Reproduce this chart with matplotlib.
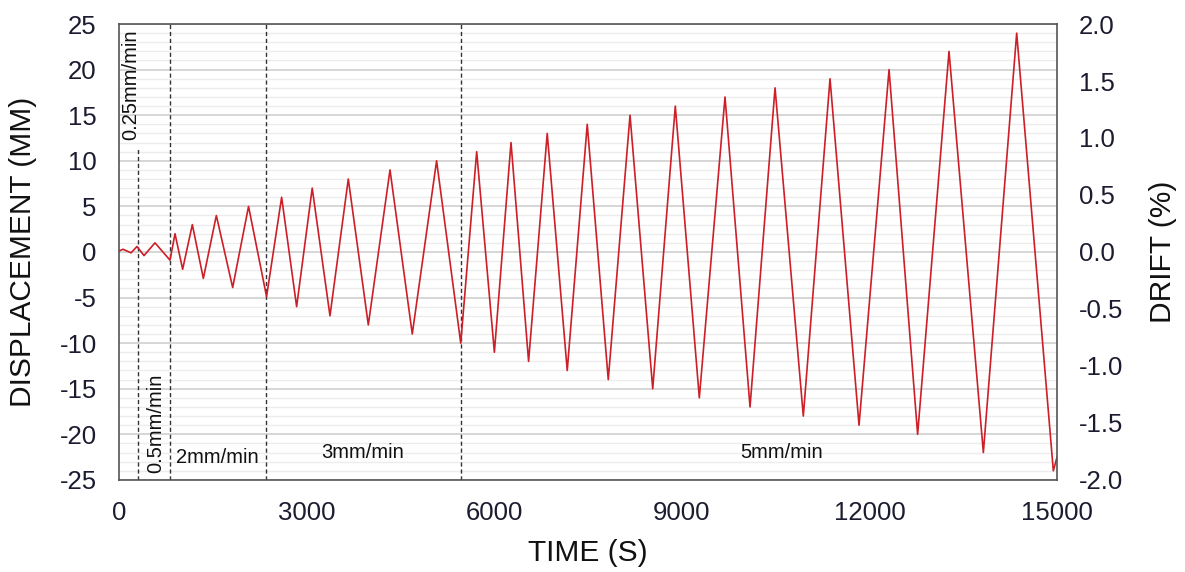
import numpy as np
import matplotlib
matplotlib.use("Agg")
import matplotlib.pyplot as plt
from matplotlib.ticker import MultipleLocator, FormatStrFormatter

plt.rcParams['font.family'] = ['Liberation Sans', 'DejaVu Sans']
plt.rcParams['axes.unicode_minus'] = False

# loading protocol, turning points
time = [0, 64, 192, 288, 400, 576, 816,
        896, 1018, 1173, 1349, 1557, 1818, 2072, 2360,
        2601, 2841, 3090, 3374, 3667, 3987, 4334, 4690, 5079, 5465,
        5720, 6003, 6269, 6550, 6848, 7168, 7488, 7824, 8172, 8535,
        8896, 9280, 9691, 10091, 10491, 10943, 11370, 11834, 12314,
        12771, 13273, 13822, 14355, 14941, 15000]
disp = [0.1, 0.3, -0.1, 0.6, -0.4, 1.0, -0.9,
        2.0, -1.9, 3.0, -2.9, 4.0, -3.9, 5.0, -4.9,
        6.0, -6.0, 7.0, -7.0, 8.0, -8.0, 9.0, -9.0, 10.0, -10.0,
        11.0, -11.0, 12.0, -12.0, 13.0, -13.0, 14.0, -14.0, 15.0, -15.0,
        16.0, -16.0, 17.0, -17.0, 18.0, -18.0, 19.0, -19.0, 20.0,
        -20.0, 22.0, -22.0, 24.0, -24.0, -22.5]

rate_bounds = [304, 816, 2351, 5469]
bound_tops = [11.4, 25, 25, 25]
height = 1250.0  # mm, drift = disp / height * 100

fig = plt.figure(figsize=(11.85, 5.72), dpi=100)
ax = fig.add_axes([0.1004, 0.161, 0.7916, 0.797])

ax.set_xlim(0, 15000)
ax.set_ylim(-25, 25)
ax.yaxis.set_major_locator(MultipleLocator(5))
ax.yaxis.set_minor_locator(MultipleLocator(1))
ax.xaxis.set_major_locator(MultipleLocator(3000))
ax.grid(which='major', axis='y', color='#cfcfcf', lw=1.2)
ax.grid(which='minor', axis='y', color='#ececec', lw=1.0)
ax.set_axisbelow(True)

ax.vlines(rate_bounds, -25, bound_tops, color='#333333', ls=(0, (3, 2)), lw=1.0)

ax.plot(time, disp, color='#cc1f27', lw=1.2)

tc = '#1c1c30'
ax.tick_params(which='both', length=0, labelsize=18.5, labelcolor=tc)
ax.tick_params(axis='y', pad=16)
ax.tick_params(axis='x', pad=15)
ax.set_xlabel('TIME (S)', fontsize=21.5, color='#111111', labelpad=10)
ax.set_ylabel('DISPLACEMENT (MM)', fontsize=21.5, color='#111111', labelpad=16)
for s in ax.spines.values():
    s.set_color('#555555')
    s.set_linewidth(1.2)

ax2 = ax.twinx()
ax2.set_ylim(-25 / height * 100, 25 / height * 100)
ax2.yaxis.set_major_locator(MultipleLocator(0.5))
ax2.yaxis.set_major_formatter(FormatStrFormatter('%.1f'))
ax2.tick_params(length=0, labelsize=18.5, labelcolor=tc, pad=16)
ax2.set_ylabel('DRIFT (%)', fontsize=21.5, color='#111111', labelpad=18)
for s in ax2.spines.values():
    s.set_visible(False)

fs = 14.5
ax.text(190, 24.4, '0.25mm/min', rotation=90, ha='center', va='top', fontsize=fs, color='#111111')
ax.text(590, -24.2, '0.5mm/min', rotation=90, ha='center', va='bottom', fontsize=fs, color='#111111')
ax.text(1580, -22.5, '2mm/min', ha='center', va='center', fontsize=fs, color='#111111')
ax.text(3900, -22.0, '3mm/min', ha='center', va='center', fontsize=fs, color='#111111')
ax.text(10590, -22.0, '5mm/min', ha='center', va='center', fontsize=fs, color='#111111')

fig.savefig('out.png', dpi=100)
